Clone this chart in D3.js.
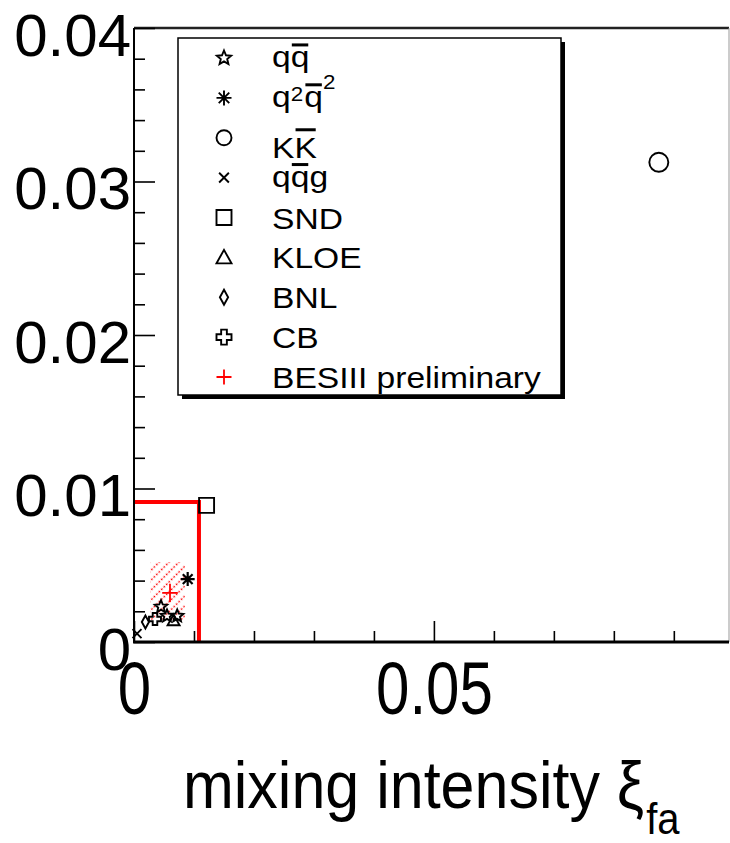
<!DOCTYPE html>
<html>
<head>
<meta charset="utf-8">
<script src="https://cdn.jsdelivr.net/npm/d3@7"></script>
<style>
  body { margin: 0; background: #fff; }
  text { font-family: "Liberation Sans", Arial, Helvetica, sans-serif; fill: #000; }
</style>
</head>
<body>
<div id="chart"></div>
<script>
var svgWidth = 730;
var svgHeight = 843;

var margin = {top: 28, right: 1, bottom: 201, left: 134};
var width = svgWidth - margin.left - margin.right;
var height = svgHeight - margin.top - margin.bottom;

// axis ranges and tick labels
var xMax = 0.0992;
var yMax = 0.04;
var xTicks = [0, 0.05];
var xTickLabels = ["0", "0.05"];
var yTicks = [0, 0.01, 0.02, 0.03, 0.04];
var yTickLabels = ["0", "0.01", "0.02", "0.03", "0.04"];

// theory points
var qqX = [0.0045, 0.0055, 0.0072];
var qqY = [0.0023, 0.0017, 0.0017];
var q2q2X = [0.00895];
var q2q2Y = [0.0041];
var kkX = [0.0875];
var kkY = [0.03125];
var qqgX = [0.0005];
var qqgY = [0.00055];

// experiments
var sndX = [0.0121];
var sndY = [0.0089];
var kloeX = [0.0066];
var kloeY = [0.0014];
var bnlX = [0.0019];
var bnlY = [0.0013];
var cbX = [0.0035];
var cbY = [0.0015];

// BESIII preliminary
var besX = [0.006];
var besY = [0.0032];
var besXErr = [0.0013];
var besYErr = [0.0006];
var besBandX = [0.0027, 0.0085];
var besBandY = [0.0014, 0.0052];
var limitX = 0.01083;
var limitY = 0.00912;

// legend
var legendMarkers = ["star", "asterisk", "circle", "times", "square", "triangle", "diamond", "cross", "plus"];
var legendColors = ["#000", "#000", "#000", "#000", "#000", "#000", "#000", "#000", "red"];
var legendLabels = [
  [{t: "q"}, {t: "q", bar: true}],
  [{t: "q"}, {t: "2", sup: 1}, {t: "q", bar: true}, {t: "2", sup: 2}],
  [{t: "K"}, {t: "K", bar: true, cap: true}],
  [{t: "q"}, {t: "q", bar: true}, {t: "g"}],
  [{t: "SND"}],
  [{t: "KLOE"}],
  [{t: "BNL"}],
  [{t: "CB"}],
  [{t: "BESIII preliminary"}]
];

// marker shapes (ROOT style open markers)
function markerPath(type, s) {
  var h = s / 2;
  switch (type) {
    case "star":
      var pts = [];
      for (var i = 0; i < 10; i++) {
        var r = i % 2 === 0 ? h : h * 0.45;
        var a = -Math.PI / 2 + i * Math.PI / 5;
        pts.push([r * Math.cos(a), r * Math.sin(a)]);
      }
      return "M" + pts.join("L") + "Z";
    case "asterisk":
      var k = h * 0.7;
      return "M" + (-h) + ",0H" + h + "M0," + (-h) + "V" + h +
        "M" + (-k) + "," + (-k) + "L" + k + "," + k + "M" + (-k) + "," + k + "L" + k + "," + (-k);
    case "circle":
      return d3.symbol().type(d3.symbolCircle).size(Math.PI * h * h)();
    case "times":
      var t = h * 0.75;
      return "M" + (-t) + "," + (-t) + "L" + t + "," + t + "M" + (-t) + "," + t + "L" + t + "," + (-t);
    case "square":
      return "M" + (-h) + "," + (-h) + "H" + h + "V" + h + "H" + (-h) + "Z";
    case "triangle":
      return "M0," + (-h) + "L" + h + "," + (h * 0.8) + "L" + (-h) + "," + (h * 0.8) + "Z";
    case "diamond":
      return "M0," + (-h) + "L" + (h * 0.55) + ",0L0," + h + "L" + (-h * 0.55) + ",0Z";
    case "cross":
      var w = h * 0.38;
      return "M" + (-w) + "," + (-h) + "H" + w + "V" + (-w) + "H" + h + "V" + w + "H" + w +
        "V" + h + "H" + (-w) + "V" + w + "H" + (-h) + "V" + (-w) + "H" + (-w) + "Z";
    case "plus":
      return "M" + (-h) + ",0H" + h + "M0," + (-h) + "V" + h;
  }
}

var svg = d3.select("#chart")
  .append("svg")
  .attr("width", svgWidth)
  .attr("height", svgHeight);

var defs = svg.append("defs");
var hatch = defs.append("pattern")
  .attr("id", "hatch")
  .attr("patternUnits", "userSpaceOnUse")
  .attr("width", 7)
  .attr("height", 7)
  .attr("patternTransform", "rotate(-45)");
hatch.append("path")
  .attr("d", "M0,3.5H7")
  .attr("stroke", "red")
  .attr("stroke-width", 1.6)
  .attr("stroke-dasharray", "1.6,1.9");

var chartGroup = svg.append("g")
  .attr("transform", `translate(${margin.left}, ${margin.top})`);

var xScale = d3.scaleLinear().domain([0, xMax]).range([0, width]);
var yScale = d3.scaleLinear().domain([0, yMax]).range([height, 0]);

// frame top and right
chartGroup.append("line")
  .attr("x1", 0).attr("x2", width).attr("y1", 0).attr("y2", 0)
  .attr("stroke", "#222").attr("stroke-width", 2.5);
chartGroup.append("line")
  .attr("x1", width).attr("x2", width).attr("y1", 0).attr("y2", height)
  .attr("stroke", "#999").attr("stroke-width", 1);

// BESIII hatched band
chartGroup.append("rect")
  .attr("x", xScale(besBandX[0]))
  .attr("y", yScale(besBandY[1]))
  .attr("width", xScale(besBandX[1]) - xScale(besBandX[0]))
  .attr("height", yScale(besBandY[0]) - yScale(besBandY[1]))
  .attr("fill", "url(#hatch)");

// upper limit lines
chartGroup.append("path")
  .attr("d", `M${xScale(0)},${yScale(limitY)}H${xScale(limitX)}V${yScale(0)}`)
  .attr("fill", "none")
  .attr("stroke", "red")
  .attr("stroke-width", 4);

// points
function drawPoints(xs, ys, type, size, color) {
  chartGroup.append("g")
    .selectAll("path")
    .data(xs.map((x, i) => [x, ys[i]]))
    .enter()
    .append("path")
    .attr("transform", d => `translate(${xScale(d[0])},${yScale(d[1])})`)
    .attr("d", markerPath(type, size))
    .attr("fill", "none")
    .attr("stroke", color)
    .attr("stroke-width", type === "asterisk" ? 2.2 : 1.9);
}

drawPoints(qqgX, qqgY, "times", 12, "#000");
drawPoints(bnlX, bnlY, "diamond", 13, "#000");
drawPoints(cbX, cbY, "cross", 12, "#000");
drawPoints(kloeX, kloeY, "triangle", 12, "#000");
drawPoints(qqX, qqY, "star", 13, "#000");
drawPoints(q2q2X, q2q2Y, "asterisk", 14, "#000");
drawPoints(kkX, kkY, "circle", 19, "#000");
drawPoints(sndX, sndY, "square", 15, "#000");

// BESIII point with errors
var besGroup = chartGroup.append("g");
besX.forEach(function (x, i) {
  besGroup.append("line")
    .attr("x1", xScale(x - besXErr[i])).attr("x2", xScale(x + besXErr[i]))
    .attr("y1", yScale(besY[i])).attr("y2", yScale(besY[i]))
    .attr("stroke", "red").attr("stroke-width", 1.8);
  besGroup.append("line")
    .attr("x1", xScale(x)).attr("x2", xScale(x))
    .attr("y1", yScale(besY[i] - besYErr[i])).attr("y2", yScale(besY[i] + besYErr[i]))
    .attr("stroke", "red").attr("stroke-width", 1.8);
});

// y axis
var yMinor = d3.range(0, yMax + 1e-9, 0.002).filter(v => Math.abs(v / 0.01 - Math.round(v / 0.01)) > 1e-6);
chartGroup.append("g")
  .call(d3.axisLeft(yScale).tickValues(yMinor).tickSizeInner(-11).tickSizeOuter(0).tickFormat(""))
  .call(g => g.select(".domain").remove())
  .selectAll("line").attr("stroke-width", 1.6);

var yAxis = chartGroup.append("g")
  .call(d3.axisLeft(yScale).tickValues(yTicks).tickSizeInner(-21).tickSizeOuter(0).tickPadding(3)
    .tickFormat((d, i) => yTickLabels[i]));
yAxis.select(".domain").remove();
yAxis.selectAll("line").attr("stroke-width", 1.6);
yAxis.selectAll("text")
  .attr("font-size", 60)
  .attr("font-family", "Liberation Sans, Arial, sans-serif")
  .attr("dy", "0.45em");
chartGroup.append("line")
  .attr("x1", 0).attr("x2", 0).attr("y1", 0).attr("y2", height)
  .attr("stroke", "#000").attr("stroke-width", 2);

// x axis
var xMinor = d3.range(0.01, xMax, 0.01).filter(v => Math.abs(v - 0.05) > 1e-6);
chartGroup.append("g")
  .attr("transform", `translate(0, ${height})`)
  .call(d3.axisBottom(xScale).tickValues(xMinor).tickSizeInner(-11).tickSizeOuter(0).tickFormat(""))
  .call(g => g.select(".domain").remove())
  .selectAll("line").attr("stroke-width", 1.6);

var xAxis = chartGroup.append("g")
  .attr("transform", `translate(0, ${height})`)
  .call(d3.axisBottom(xScale).tickValues(xTicks).tickSizeInner(-21).tickSizeOuter(0)
    .tickFormat((d, i) => xTickLabels[i]));
xAxis.select(".domain").remove();
xAxis.selectAll("line").attr("stroke-width", 1.6);
xAxis.selectAll("text")
  .attr("font-size", 60)
  .attr("font-family", "Liberation Sans, Arial, sans-serif")
  .attr("y", 57.9)
  .attr("dy", 0)
  .attr("transform", "scale(1,1.25)");
chartGroup.append("line")
  .attr("x1", -1).attr("x2", width).attr("y1", height).attr("y2", height)
  .attr("stroke", "#000").attr("stroke-width", 3);

// x axis title
var title = svg.append("text")
  .attr("transform", "translate(183, 808) scale(1,1.1)")
  .attr("font-size", 61);
title.append("tspan").text("mixing intensity \u03be");
title.append("tspan").attr("font-size", 40).attr("dx", 2).attr("dy", 24).text("fa");

// legend
var legendBox = {x: 178, y: 38, w: 383, h: 357};
svg.append("rect")
  .attr("x", legendBox.x + 4).attr("y", legendBox.y + 4)
  .attr("width", legendBox.w).attr("height", legendBox.h)
  .attr("fill", "#000");
svg.append("rect")
  .attr("x", legendBox.x).attr("y", legendBox.y)
  .attr("width", legendBox.w).attr("height", legendBox.h)
  .attr("fill", "#fff").attr("stroke", "#000").attr("stroke-width", 1.5);

var legendRowY = d3.scaleLinear().domain([0, legendLabels.length - 1]).range([58, 377]);
var legendFont = 30;
var legendStretch = 1.12;

legendLabels.forEach(function (parts, i) {
  var cy = legendRowY(i);
  svg.append("path")
    .attr("transform", `translate(224, ${cy})`)
    .attr("d", markerPath(legendMarkers[i], legendMarkers[i] === "times" ? 13 : 15))
    .attr("fill", "none")
    .attr("stroke", legendColors[i])
    .attr("stroke-width", legendMarkers[i] === "plus" ? 1.8 : 1.9);

  var hasCapBar = parts.some(p => p.bar && p.cap);
  var base = cy + (parts.length > 1 ? 9 : 11) + (hasCapBar ? 11 : 0);
  var g = svg.append("g")
    .attr("transform", `translate(272, ${base}) scale(${legendStretch},1)`);
  var cx = 0;
  parts.forEach(function (p) {
    var size = p.sup ? 20 : legendFont;
    var dy = p.sup === 1 ? -6 : (p.sup === 2 ? -18 : 0);
    var t = g.append("text")
      .attr("x", cx)
      .attr("y", dy)
      .attr("font-size", size)
      .text(p.t);
    var w = t.node().getComputedTextLength();
    if (p.bar) {
      var top = p.cap ? legendFont * 0.716 : legendFont * 0.519;
      g.append("line")
        .attr("x1", cx + 1).attr("x2", cx + w - 1)
        .attr("y1", -(top + 6.5)).attr("y2", -(top + 6.5))
        .attr("stroke", "#000").attr("stroke-width", 3);
    }
    cx += w + (p.sup ? 1 : 0);
  });
});
</script>
</body>
</html>
